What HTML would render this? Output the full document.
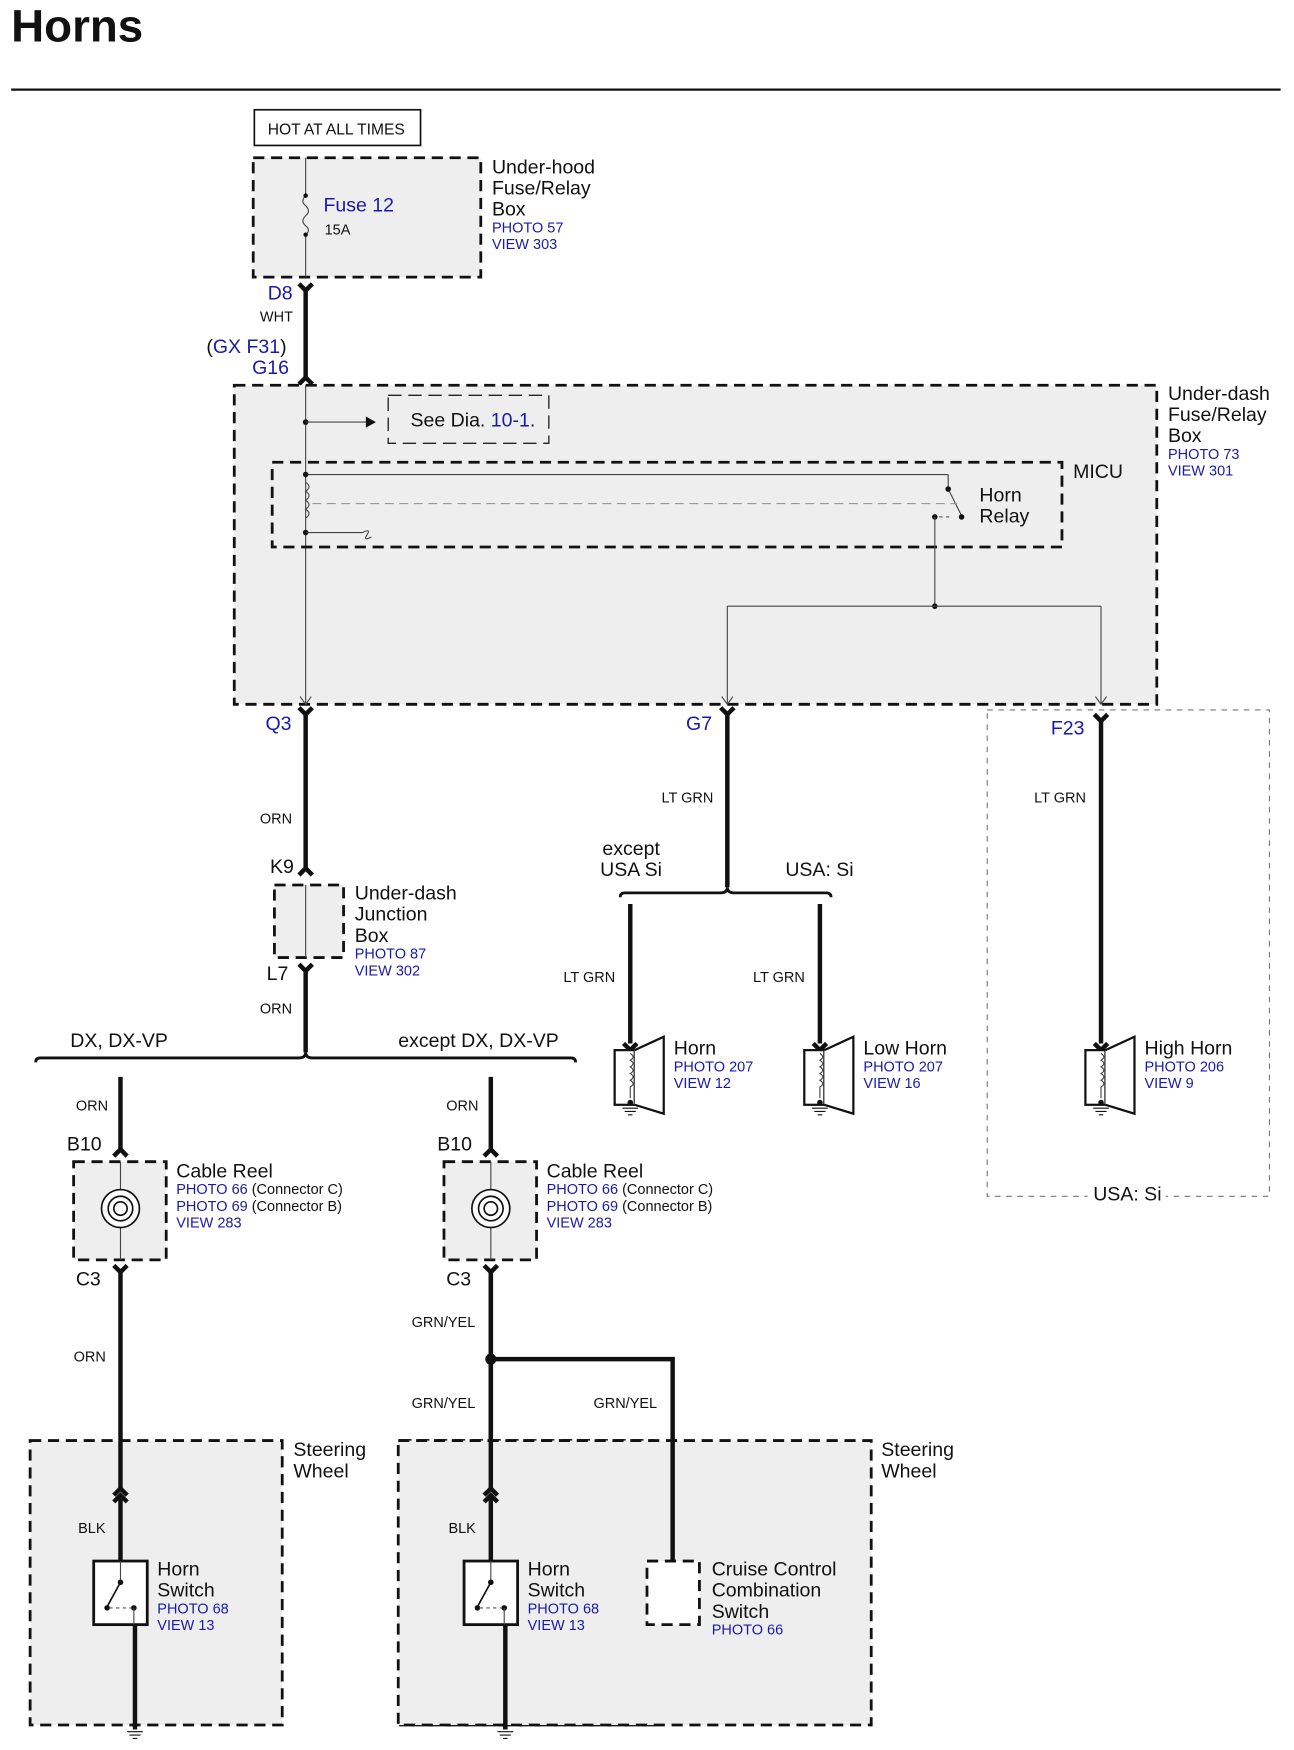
<!DOCTYPE html>
<html><head><meta charset="utf-8"><style>
html,body{margin:0;padding:0;background:#fff}
svg{display:block}
text{font-family:"Liberation Sans",Arial,sans-serif;fill:#111}
.b{fill:#1a1aa8}
.s{font-size:13px}
.m{font-size:17.5px}
.box{fill:#eeeeee;stroke:#111;stroke-width:2.5;stroke-dasharray:10,6}
.thin{stroke:#444;stroke-width:1;fill:none}
.w{stroke:#111;stroke-width:4;fill:none}
</style></head><body>
<svg width="1294" height="1750" viewBox="0 0 1160 1568" xmlns="http://www.w3.org/2000/svg">
<text x="10" y="37" font-size="41" font-weight="bold">Horns</text>
<line x1="10" y1="80" x2="1148" y2="80" stroke="#111" stroke-width="2"/>

<rect x="228" y="98" width="149" height="32" fill="#fff" stroke="#111" stroke-width="1.5"/>
<text x="240" y="120" font-size="14">HOT AT ALL TIMES</text>

<rect class="box" x="227" y="141" width="204" height="107"/>
<line class="thin" x1="274" y1="141" x2="274" y2="175"/>
<path d="M274 175 q-5 5 0 9 q5 5 0 9 q-5 5 0 9 q5 4 0 8" class="thin"/>
<line class="thin" x1="274" y1="210" x2="274" y2="248"/>
<circle cx="274" cy="175" r="2" fill="#111"/><circle cx="274" cy="210" r="2" fill="#111"/>
<text x="290" y="189" class="m b">Fuse 12</text>
<text x="291" y="210" class="s">15A</text>
<text x="441" y="155" class="m">Under-hood</text>
<text x="441" y="174" class="m">Fuse/Relay</text>
<text x="441" y="193" class="m">Box</text>
<text x="441" y="208" class="s b">PHOTO 57</text>
<text x="441" y="223" class="s b">VIEW 303</text>

<text x="240" y="268" class="m b">D8</text>
<path d="M268 254 l6 6 l6 -6" class="w" stroke-width="3"/>
<line class="w" x1="274" y1="258" x2="274" y2="338"/>
<path d="M268 344 l6 -6 l6 6" class="w" stroke-width="3"/>
<text x="233" y="288" class="s">WHT</text>
<text x="185" y="316" class="m">(<tspan class="b">GX F31</tspan>)</text>
<text x="226" y="335" class="m b">G16</text>

<rect class="box" x="210" y="345" width="827" height="286"/>
<text x="1047" y="358" class="m">Under-dash</text>
<text x="1047" y="377" class="m">Fuse/Relay</text>
<text x="1047" y="396" class="m">Box</text>
<text x="1047" y="411" class="s b">PHOTO 73</text>
<text x="1047" y="426" class="s b">VIEW 301</text>
<line class="thin" x1="274" y1="345" x2="274" y2="631"/>
<circle cx="274" cy="378" r="2.5" fill="#111"/>
<line class="thin" x1="274" y1="378" x2="330" y2="378"/>
<path d="M328 373 l9 5 l-9 5z" fill="#111"/>
<rect x="348" y="354" width="144" height="43" fill="none" stroke="#222" stroke-width="1.2" stroke-dasharray="12,6"/>
<text x="368" y="382" class="m">See Dia. <tspan class="b">10-1</tspan>.</text>

<rect x="244" y="414" width="708" height="76" fill="none" stroke="#111" stroke-width="2.5" stroke-dasharray="10,6"/>
<text x="962" y="428" class="m">MICU</text>
<line class="thin" x1="274" y1="425" x2="850" y2="425"/>
<line class="thin" x1="850" y1="425" x2="850" y2="438"/>
<line class="thin" x1="850" y1="438" x2="862" y2="462"/>
<circle cx="850" cy="438" r="2.5" fill="#111"/><circle cx="862" cy="463" r="2.5" fill="#111"/>
<circle cx="838" cy="463" r="2.5" fill="#111"/>
<path d="M274 432 q6 4 0 8 q6 4 0 8 q6 4 0 8 q6 4 0 8" class="thin"/>
<circle cx="274" cy="425" r="2.5" fill="#111"/><circle cx="274" cy="477" r="2.5" fill="#111"/>
<line x1="280" y1="451" x2="858" y2="451" stroke="#999" stroke-width="1" stroke-dasharray="8,5"/>
<path d="M842 463 l12 0" stroke="#555" stroke-dasharray="3,3"/>
<line class="thin" x1="274" y1="477" x2="325" y2="477"/>
<path d="M325 477 q8 -4 4 2 q-4 6 4 2" class="thin"/>
<text x="878" y="449" class="m">Horn</text>
<text x="878" y="468" class="m">Relay</text>
<line class="thin" x1="838" y1="463" x2="838" y2="543"/>
<circle cx="838" cy="543" r="2.5" fill="#111"/>
<line class="thin" x1="652" y1="543" x2="987" y2="543"/>
<line class="thin" x1="652" y1="543" x2="652" y2="631"/>
<line class="thin" x1="987" y1="543" x2="987" y2="631"/>
<path d="M647 624 l5 7 l5 -7 M982 624 l5 7 l5 -7 M269 624 l5 7 l5 -7" class="thin"/>

<rect x="885" y="636" width="253" height="436" fill="none" stroke="#777" stroke-width="1" stroke-dasharray="5,5"/>
<rect x="975" y="1062" width="70" height="16" fill="#fff"/>
<text x="980" y="1076" class="m">USA: Si</text>

<text x="238" y="654" class="m b">Q3</text>
<path d="M268 634 l6 6 l6 -6" class="w" stroke-width="3"/>
<line class="w" x1="274" y1="638" x2="274" y2="778"/>
<path d="M268 784 l6 -6 l6 6" class="w" stroke-width="3"/>
<text x="233" y="738" class="s">ORN</text>
<text x="242" y="782" class="m">K9</text>
<rect class="box" x="246" y="793" width="62" height="65"/>
<line class="thin" x1="274" y1="793" x2="274" y2="858"/>
<text x="318" y="806" class="m">Under-dash</text>
<text x="318" y="825" class="m">Junction</text>
<text x="318" y="844" class="m">Box</text>
<text x="318" y="859" class="s b">PHOTO 87</text>
<text x="318" y="874" class="s b">VIEW 302</text>
<text x="239" y="878" class="m">L7</text>
<path d="M268 864 l6 6 l6 -6" class="w" stroke-width="3"/>
<line class="w" x1="274" y1="868" x2="274" y2="943"/>
<text x="233" y="908" class="s">ORN</text>

<path d="M32 952 q0 -4 4 -4 L268 948 q6 0 6 -5 q0 5 6 5 L512 948 q4 0 4 4" fill="none" stroke="#111" stroke-width="2.5"/>
<text x="63" y="938" class="m">DX, DX-VP</text>
<text x="357" y="938" class="m">except DX, DX-VP</text>

<text x="615" y="654" class="m b">G7</text>
<path d="M646 634 l6 6 l6 -6" class="w" stroke-width="3"/>
<line class="w" x1="652" y1="638" x2="652" y2="795"/>
<text x="593" y="719" class="s">LT GRN</text>
<text x="540" y="766" class="m">except</text>
<text x="538" y="785" class="m">USA Si</text>
<text x="704" y="785" class="m">USA: Si</text>
<path d="M556 804 q0 -4 4 -4 L646 800 q6 0 6 -5 q0 5 6 5 L741 800 q4 0 4 4" fill="none" stroke="#111" stroke-width="2.5"/>
<line class="w" x1="565" y1="810" x2="565" y2="935"/>
<line class="w" x1="735" y1="810" x2="735" y2="935"/>
<text x="505" y="880" class="s">LT GRN</text>
<text x="675" y="880" class="s">LT GRN</text>

<text x="942" y="658" class="m b">F23</text>
<path d="M981 640 l6 6 l6 -6" class="w" stroke-width="3"/>
<line class="w" x1="987" y1="644" x2="987" y2="935"/>
<text x="927" y="719" class="s">LT GRN</text>

<g id="horn">
<path d="M559 935 l6 6 l6 -6" class="w" stroke-width="3"/>
<rect x="551" y="941" width="18" height="49" fill="#fff" stroke="#111" stroke-width="2"/>
<path d="M569 941 l26 -12 l0 69 l-26 -8" fill="#fff" stroke="#111" stroke-width="2"/>
<path d="M565 944 q5 3 0 6 q5 3 0 6 q5 3 0 6 q5 3 0 6 q5 3 0 6 l0 10" class="thin"/>
<circle cx="565" cy="988" r="2.5" fill="#111"/>
<path d="M558 993 h14 M560 996 h10 M563 999 h4" stroke="#111" stroke-width="1"/>
</g>
<use href="#horn" x="170"/>
<use href="#horn" x="422"/>
<text x="604" y="945" class="m">Horn</text>
<text x="604" y="960" class="s b">PHOTO 207</text>
<text x="604" y="975" class="s b">VIEW 12</text>
<text x="774" y="945" class="m">Low Horn</text>
<text x="774" y="960" class="s b">PHOTO 207</text>
<text x="774" y="975" class="s b">VIEW 16</text>
<text x="1026" y="945" class="m">High Horn</text>
<text x="1026" y="960" class="s b">PHOTO 206</text>
<text x="1026" y="975" class="s b">VIEW 9</text>

<g id="reel">
<line class="w" x1="108" y1="965" x2="108" y2="1030"/>
<path d="M102 1036 l6 -6 l6 6" class="w" stroke-width="3"/>
<text x="68" y="995" class="s">ORN</text>
<text x="60" y="1031" class="m">B10</text>
<rect class="box" x="66" y="1041" width="83" height="88"/>
<line class="thin" x1="108" y1="1041" x2="108" y2="1129"/>
<circle cx="108" cy="1083" r="17" fill="#fff" stroke="#111" stroke-width="1.5"/>
<circle cx="108" cy="1083" r="11" fill="none" stroke="#111" stroke-width="1.5"/>
<circle cx="108" cy="1083" r="6" fill="none" stroke="#111" stroke-width="1.5"/>
<text x="158" y="1055" class="m">Cable Reel</text>
<text x="158" y="1070" class="s"><tspan class="b">PHOTO 66</tspan> (Connector C)</text>
<text x="158" y="1085" class="s"><tspan class="b">PHOTO 69</tspan> (Connector B)</text>
<text x="158" y="1100" class="s b">VIEW 283</text>
<text x="68" y="1152" class="m">C3</text>
<path d="M102 1134 l6 6 l6 -6" class="w" stroke-width="3"/>
<line class="w" x1="108" y1="1138" x2="108" y2="1334"/>
<rect x="27" y="1291" width="226" height="255" fill="#eee" stroke="#111" stroke-width="2.5" stroke-dasharray="10,6"/>
<line class="w" x1="108" y1="1291" x2="108" y2="1334"/>
<path d="M102 1340 l6 -6 l6 6 M102 1346 l6 -6 l6 6" class="w" stroke-width="2.5"/>
<line class="w" x1="108" y1="1342" x2="108" y2="1399"/>
<text x="70" y="1374" class="s">BLK</text>
<rect x="84" y="1399" width="48" height="57" fill="#fff" stroke="#111" stroke-width="2.5"/>
<line class="thin" x1="108" y1="1399" x2="108" y2="1418"/>
<line stroke="#111" stroke-width="1.5" x1="108" y1="1418" x2="96" y2="1440"/>
<circle cx="108" cy="1418" r="2.5" fill="#111"/><circle cx="96" cy="1441" r="2.5" fill="#111"/><circle cx="120" cy="1441" r="2.5" fill="#111"/>
<path d="M98 1441 h20" stroke="#555" stroke-dasharray="3,3"/>
<line class="thin" x1="120" y1="1441" x2="120" y2="1456"/>
<line class="w" x1="121" y1="1456" x2="121" y2="1550"/>
<path d="M114 1552 h14 M116 1555 h10 M119 1558 h4" stroke="#111" stroke-width="1"/>
<text x="141" y="1412" class="m">Horn</text>
<text x="141" y="1431" class="m">Switch</text>
<text x="141" y="1446" class="s b">PHOTO 68</text>
<text x="141" y="1461" class="s b">VIEW 13</text>
</g>
<text x="66" y="1220" class="s">ORN</text>
<text x="263" y="1305" class="m">Steering</text>
<text x="263" y="1324" class="m">Wheel</text>

<use href="#reel" x="332"/>
<rect x="357" y="1291" width="424" height="255" fill="#eee" stroke="#111" stroke-width="2.5" stroke-dasharray="10,6"/>
<line class="w" x1="440" y1="1138" x2="440" y2="1334"/>
<path d="M434 1340 l6 -6 l6 6 M434 1346 l6 -6 l6 6" class="w" stroke-width="2.5"/>
<line class="w" x1="440" y1="1342" x2="440" y2="1399"/>
<rect x="416" y="1399" width="48" height="57" fill="#fff" stroke="#111" stroke-width="2.5"/>
<line class="thin" x1="440" y1="1399" x2="440" y2="1418"/>
<line stroke="#111" stroke-width="1.5" x1="440" y1="1418" x2="428" y2="1440"/>
<circle cx="440" cy="1418" r="2.5" fill="#111"/><circle cx="428" cy="1441" r="2.5" fill="#111"/><circle cx="452" cy="1441" r="2.5" fill="#111"/>
<path d="M430 1441 h20" stroke="#555" stroke-dasharray="3,3"/>
<line class="thin" x1="452" y1="1441" x2="452" y2="1456"/>
<line class="w" x1="453" y1="1456" x2="453" y2="1550"/>
<text x="473" y="1412" class="m">Horn</text>
<text x="473" y="1431" class="m">Switch</text>
<text x="473" y="1446" class="s b">PHOTO 68</text>
<text x="473" y="1461" class="s b">VIEW 13</text>
<text x="402" y="1374" class="s">BLK</text>
<text x="369" y="1189" class="s">GRN/YEL</text>
<text x="369" y="1262" class="s">GRN/YEL</text>
<text x="532" y="1262" class="s">GRN/YEL</text>
<circle cx="440" cy="1218" r="5" fill="#111"/>
<path d="M440 1218 H603 V1399" class="w"/>
<rect x="580" y="1399" width="47" height="57" fill="#fff" stroke="#111" stroke-width="2.5" stroke-dasharray="10,6"/>
<text x="638" y="1412" class="m">Cruise Control</text>
<text x="638" y="1431" class="m">Combination</text>
<text x="638" y="1450" class="m">Switch</text>
<text x="638" y="1465" class="s b">PHOTO 66</text>
<text x="790" y="1305" class="m">Steering</text>
<text x="790" y="1324" class="m">Wheel</text>
</svg>
</body></html>
